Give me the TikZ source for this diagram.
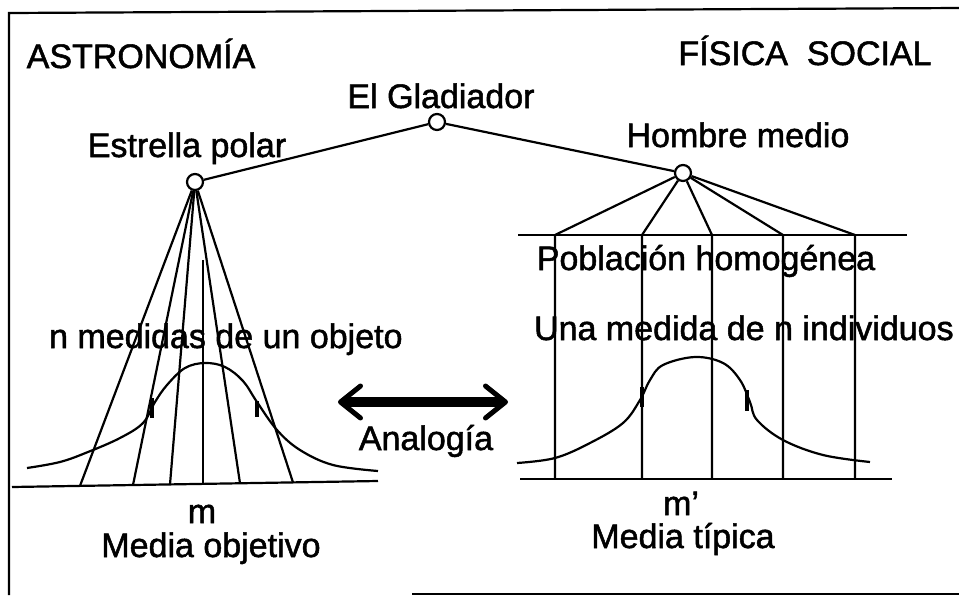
\documentclass[tikz,border=0pt]{standalone}
\usepackage{fontspec}
\setmainfont{Liberation Sans}[FakeBold=1.5]
\newfontfamily\rotfont{Liberation Sans}[FakeBold=1.5]
\usetikzlibrary{arrows.meta}

\begin{document}
\begin{tikzpicture}[x=1pt, y=-1pt, line width=2.2pt,
  barba/.tip={Straight Barb[length=20pt, width=32pt, line width'=5pt, round]}]
\tikzstyle{rotulo} = [inner sep=0pt, anchor=base, font=\rotfont\fontsize{34}{40}\selectfont]
\tikzstyle{punto} = [circle, draw, fill=white, minimum size=16pt, inner sep=0pt]
\tikzstyle{marca} = [line width=3.5pt]

\useasboundingbox (0,0) rectangle (959,595);

% marco
\draw (9,595) -- (9,13) -- (959,8);
\draw (412,594) -- (959,594);

% rotulos de arriba
\node (astro) [rotulo] at (141,68) {ASTRONOMÍA};
\node (fisica) [rotulo] at (805,65) {FÍSICA\ \ SOCIAL};
\node (gladlbl) [rotulo] at (441,108) {El Gladiador};
\node (polarlbl) [rotulo] at (187,157) {Estrella polar};
\node (hombrelbl) [rotulo] at (738,147) {Hombre medio};

% puntos de la balanza
\node (glad) [punto] at (437,122) {};
\node (polar) [punto] at (195,182) {};
\node (hombre) [punto] at (683,173) {};
\draw (polar) -- (glad) -- (hombre);

% astronomia: n medidas de un objeto
\draw (12,487) -- (378,481);
\foreach \x [count=\i] in {80,133,170,240,293} {
  \coordinate (pie\i) at (\x,{487-(\x-12)*6/366});
  \draw (polar) -- (pie\i);
}
\draw (203,260) -- (203,484);
\draw plot[smooth, tension=0.6] coordinates {(27,468) (60,462) (88,452) (120,438) (143,423) (155,402)
  (167,385) (185,368) (205,363) (225,367) (243,381) (257,402) (277,430) (300,450) (333,465) (378,471)};
\draw[marca] (152,398) -- (152,418);
\draw[marca] (257,401) -- (257,417);

\node (nmed) [rotulo, anchor=base west] at (48,348) {n medidas de un objeto};
\node (m) [rotulo] at (202,523) {m};
\node (mediaobj) [rotulo] at (211,557) {Media objetivo};

% fisica social: una medida de n individuos
\draw (518,235) -- (907,235);
\draw (520,479) -- (892,479);
\foreach \x [count=\i] in {555,642,712,783,855} {
  \coordinate (cab\i) at (\x,235);
  \coordinate (base\i) at (\x,479);
  \draw (hombre) -- (cab\i) -- (base\i);
}
\draw plot[smooth, tension=0.6] coordinates {(517,463) (555,458) (590,443) (623,423) (640,400)
  (650,380) (663,365) (695,357) (723,363) (740,380) (750,402) (757,420) (783,440) (823,455) (870,462)};
\draw[marca] (642,387) -- (642,407);
\draw[marca] (747,390) -- (747,411);

\node (pobl) [rotulo] at (706,270) {Población homogénea};
\node (unamed) [rotulo, anchor=base west] at (533,340) {Una medida de n individuos};
\node (mp) [rotulo, anchor=base west] at (662,515) {m’};
\node (mediatip) [rotulo] at (683,548) {Media típica};

% analogia
\coordinate (analizq) at (338,402);
\coordinate (analder) at (508,402);
\draw[line width=10pt, barba-barba] (analizq) -- (analder);
\node (analog) [rotulo] at (426,450) {Analogía};

\end{tikzpicture}
\end{document}
